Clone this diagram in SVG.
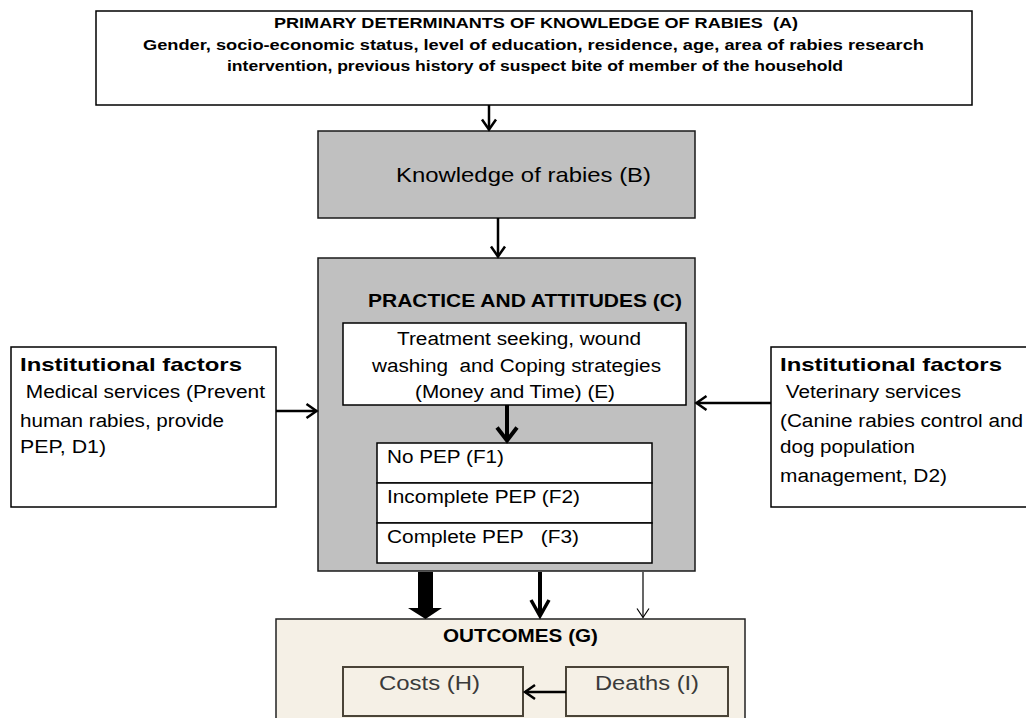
<svg xmlns="http://www.w3.org/2000/svg" width="1026" height="718" viewBox="0 0 1026 718">
<style>
text{font-family:"Liberation Sans",Arial,Helvetica,sans-serif;fill:#000}
.b{font-weight:bold}
.pre{white-space:pre}
.box{fill:#fff;stroke:#000;stroke-width:1.5}
.gray{fill:#c0c0c0;stroke:#1a1a1a;stroke-width:1.5}
.sub{fill:none;stroke:#4a4438;stroke-width:2}
.ln{stroke:#000;fill:none}
.dk{fill:#3a3a3a}
</style>
<defs>
<marker id="ah" markerUnits="userSpaceOnUse" orient="auto" refX="0" refY="0" markerWidth="20" markerHeight="20" overflow="visible">
<path d="M-10,-7 L0,0 L-10,7" fill="none" stroke="#000" stroke-width="2.5"/>
</marker>
<marker id="ahBig" markerUnits="userSpaceOnUse" orient="auto" refX="0" refY="0" markerWidth="20" markerHeight="20" overflow="visible">
<path d="M-13,-10 L0,0 L-13,10" fill="none" stroke="#000" stroke-width="4"/>
</marker>
<marker id="ahMid" markerUnits="userSpaceOnUse" orient="auto" refX="0" refY="0" markerWidth="20" markerHeight="20" overflow="visible">
<path d="M-16,-9 L0,0 L-16,9" fill="none" stroke="#000" stroke-width="3.5"/>
</marker>
<marker id="ahThin" markerUnits="userSpaceOnUse" orient="auto" refX="0" refY="0" markerWidth="20" markerHeight="20" overflow="visible">
<path d="M-9,-6 L0,0 L-9,6" fill="none" stroke="#000" stroke-width="1.2"/>
</marker>
</defs>
<rect width="1026" height="718" fill="#fff"/>

<g id="nodeA">
<rect class="box" x="96" y="11" width="876" height="94"/>
<text class="b" x="274" y="28" font-size="15" textLength="524" lengthAdjust="spacingAndGlyphs" xml:space="preserve">PRIMARY DETERMINANTS OF KNOWLEDGE OF RABIES  (A)</text>
<text class="b" x="143" y="49.5" font-size="15" textLength="781" lengthAdjust="spacingAndGlyphs">Gender, socio-economic status, level of education, residence, age, area of rabies research</text>
<text class="b" x="227" y="71" font-size="15" textLength="616" lengthAdjust="spacingAndGlyphs">intervention, previous history of suspect bite of member of the household</text>
</g>

<g id="nodeB">
<rect class="gray" x="318" y="131" width="377" height="87"/>
<text x="396" y="182" font-size="21" textLength="255" lengthAdjust="spacingAndGlyphs">Knowledge of rabies (B)</text>
</g>

<g id="nodeC">
<rect class="gray" x="318" y="258" width="377" height="313"/>
<text class="b" x="368" y="307" font-size="18" textLength="314" lengthAdjust="spacingAndGlyphs">PRACTICE AND ATTITUDES (C)</text>
</g>

<g id="nodeE">
<rect class="box" x="343" y="323" width="343" height="82"/>
<text x="397" y="345" font-size="18" textLength="244" lengthAdjust="spacingAndGlyphs">Treatment seeking, wound</text>
<text x="372" y="372" font-size="18" textLength="289" lengthAdjust="spacingAndGlyphs" xml:space="preserve">washing  and Coping strategies</text>
<text x="415" y="398" font-size="18" textLength="200" lengthAdjust="spacingAndGlyphs">(Money and Time) (E)</text>
</g>

<g id="nodeF1">
<rect class="box" x="377" y="443" width="275" height="40"/>
<text x="387" y="463" font-size="18" textLength="117" lengthAdjust="spacingAndGlyphs">No PEP (F1)</text>
</g>
<g id="nodeF2">
<rect class="box" x="377" y="483" width="275" height="40"/>
<text x="387" y="503" font-size="18" textLength="193" lengthAdjust="spacingAndGlyphs">Incomplete PEP (F2)</text>
</g>
<g id="nodeF3">
<rect class="box" x="377" y="523" width="275" height="40"/>
<text x="387" y="543" font-size="18" textLength="192" lengthAdjust="spacingAndGlyphs" xml:space="preserve">Complete PEP   (F3)</text>
</g>

<g id="nodeD1">
<rect class="box" x="11" y="347" width="265" height="160"/>
<text class="b" x="20" y="371" font-size="19" textLength="222" lengthAdjust="spacingAndGlyphs">Institutional factors</text>
<text x="20" y="398" font-size="18" textLength="245" lengthAdjust="spacingAndGlyphs" xml:space="preserve"> Medical services (Prevent</text>
<text x="20" y="427" font-size="18" textLength="204" lengthAdjust="spacingAndGlyphs">human rabies, provide</text>
<text x="20" y="453" font-size="18" textLength="86" lengthAdjust="spacingAndGlyphs">PEP, D1)</text>
</g>

<g id="nodeD2">
<rect class="box" x="771" y="347" width="270" height="160"/>
<text class="b" x="780" y="371" font-size="19" textLength="222" lengthAdjust="spacingAndGlyphs">Institutional factors</text>
<text x="780" y="398" font-size="18" textLength="181" lengthAdjust="spacingAndGlyphs" xml:space="preserve"> Veterinary services</text>
<text x="780" y="427" font-size="18" textLength="243" lengthAdjust="spacingAndGlyphs">(Canine rabies control and</text>
<text x="780" y="453" font-size="18" textLength="135" lengthAdjust="spacingAndGlyphs">dog population</text>
<text x="780" y="482" font-size="18" textLength="167" lengthAdjust="spacingAndGlyphs">management, D2)</text>
</g>

<g id="nodeG">
<rect x="276" y="619" width="469" height="115" fill="#f5f0e6" stroke="#222" stroke-width="1.5"/>
<text class="b" x="443" y="642" font-size="18" textLength="155" lengthAdjust="spacingAndGlyphs">OUTCOMES (G)</text>
</g>
<g id="nodeH">
<rect class="sub" x="343" y="667" width="180" height="49"/>
<text class="dk" x="379" y="690" font-size="20" textLength="101" lengthAdjust="spacingAndGlyphs">Costs (H)</text>
</g>
<g id="nodeI">
<rect class="sub" x="566" y="667" width="162" height="49"/>
<text class="dk" x="595" y="690" font-size="20" textLength="104" lengthAdjust="spacingAndGlyphs">Deaths (I)</text>
</g>

<g id="connectors">
<line class="ln" x1="489" y1="105" x2="489" y2="129.5" stroke-width="2.5" marker-end="url(#ah)"/>
<line class="ln" x1="498" y1="218" x2="498" y2="256.5" stroke-width="2.5" marker-end="url(#ah)"/>
<line class="ln" x1="276" y1="411" x2="316.5" y2="411" stroke-width="2.5" marker-end="url(#ah)"/>
<line class="ln" x1="771" y1="403" x2="696.5" y2="403" stroke-width="2.5" marker-end="url(#ah)"/>
<line class="ln" x1="507" y1="405" x2="507" y2="440.5" stroke-width="4" marker-end="url(#ahBig)"/>
<polygon points="418,572 433,572 433,608 442,608 425.5,619 408,608 418,608" fill="#000"/>
<line class="ln" x1="540" y1="572" x2="540" y2="616" stroke-width="4" marker-end="url(#ahMid)"/>
<line class="ln" x1="643" y1="572" x2="643" y2="617.5" stroke-width="1.2" marker-end="url(#ahThin)"/>
<line class="ln" x1="566" y1="692" x2="525" y2="692" stroke-width="2.5" marker-end="url(#ah)"/>
</g>
</svg>
